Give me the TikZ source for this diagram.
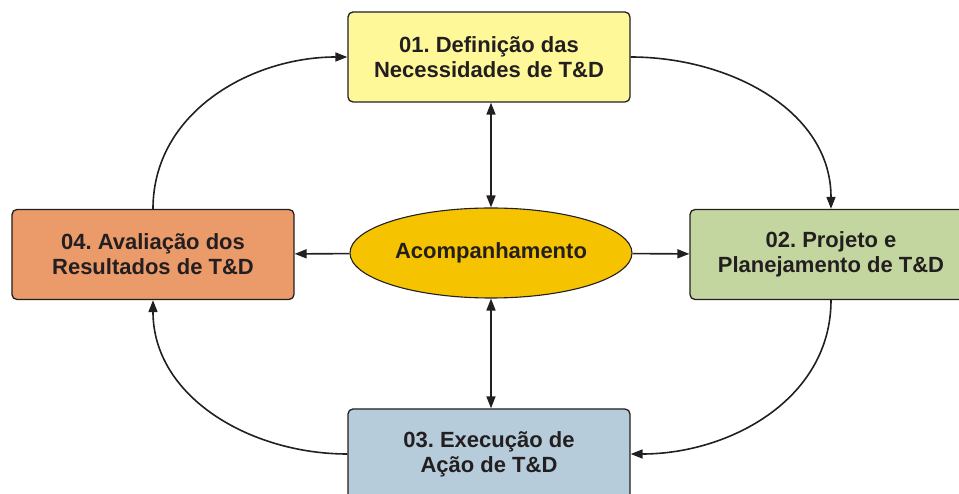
\documentclass[tikz,border=0pt]{standalone}
\usepackage{fontspec}
\setmainfont{Liberation Sans}
\frenchspacing
\usetikzlibrary{arrows.meta,positioning,shapes.geometric}
\definecolor{txtcol}{HTML}{231F20}
\definecolor{defcol}{HTML}{FFF899}
\definecolor{projcol}{HTML}{C4D6A0}
\definecolor{execcol}{HTML}{B6CCDA}
\definecolor{avalcol}{HTML}{EB9A6A}
\definecolor{acompcol}{HTML}{F6C300}
\tikzset{
  etapa/.style={draw=txtcol, line width=1.3pt, rounded corners=5pt,
    minimum width=282pt, minimum height=90pt, align=center,
    font=\fontsize{22}{25}\selectfont\bfseries, text=txtcol},
  centro/.style={ellipse, draw=txtcol, line width=1.1pt, fill=acompcol,
    minimum width=282pt, minimum height=90pt, inner sep=0pt,
    font=\fontsize{22}{25}\selectfont\bfseries, text=txtcol},
  seta/.style={draw=txtcol, line width=1.6pt},
  every edge/.style={draw, seta}
}
\begin{document}
\begin{tikzpicture}[>={Triangle[length=12pt,width=9pt]}, node distance=196pt, on grid]
  \useasboundingbox (-491pt,253pt) rectangle (468pt,-241pt);
  \node[centro] (acomp) {Acompanhamento};
  \node[etapa, fill=defcol] [above=196pt of acomp, xshift=-2pt] (def) {01. Definição das\\Necessidades de T\&D};
  \node[etapa, fill=projcol] [right=340pt of acomp, yshift=-1.5pt] (proj) {02. Projeto e\\Planejamento de T\&D};
  \node[etapa, fill=execcol] [below=201pt of acomp, xshift=-2pt] (exec) {03. Execução de\\Ação de T\&D};
  \node[etapa, fill=avalcol] [left=338pt of acomp, yshift=-1.5pt] (aval) {04. Avaliação dos\\Resultados de T\&D};
  \path[->]
    (def.east) edge [out=0, in=90] (proj.north)
    (proj.south) edge [out=-90, in=0] (exec.east)
    (exec.west) edge [out=180, in=-90] (aval.south)
    (aval.north) edge [out=90, in=180] (def.west)
    (acomp) edge (proj)
    (acomp) edge (aval);
  \path[<->]
    (def.south -| acomp.north) edge (acomp.north)
    (acomp.south) edge (exec.north -| acomp.south);
\end{tikzpicture}
\end{document}
